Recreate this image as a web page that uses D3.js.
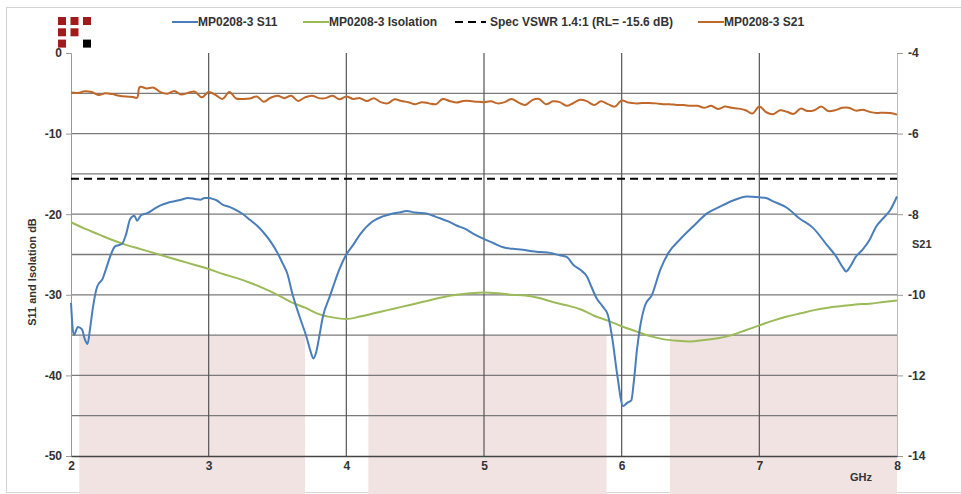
<!DOCTYPE html>
<html lang="en">
<head>
<meta charset="utf-8">
<title>MP0208-3</title>
<script src="https://d3js.org/d3.v7.min.js"></script>
<style>
  body { margin: 0; background: #fff; }
  svg text { font-family: "Liberation Sans", Arial, sans-serif; font-weight: bold; fill: #333; }
</style>
</head>
<body>
<div id="chart"></div>
<script>
// chart data
var seriesNames = ["MP0208-3 S11", "MP0208-3 Isolation", "Spec VSWR 1.4:1 (RL= -15.6 dB)", "MP0208-3 S21"];
var specRL = -15.6;

// S11 [GHz, dB]
var s11 = [
  [2.00,-31.0],[2.02,-35.0],[2.05,-34.0],[2.08,-34.3],[2.10,-35.5],[2.12,-36.1],[2.14,-34.0],[2.16,-31.5],
  [2.19,-29.0],[2.23,-28.0],[2.26,-26.5],[2.29,-25.0],[2.32,-24.0],[2.37,-23.7],[2.40,-22.5],[2.43,-20.6],
  [2.46,-20.2],[2.48,-20.8],[2.51,-20.1],[2.55,-19.9],[2.60,-19.4],[2.65,-18.9],[2.70,-18.6],[2.75,-18.4],
  [2.80,-18.2],[2.85,-18.0],[2.90,-18.1],[2.94,-18.2],[2.97,-18.0],[3.00,-18.0],[3.03,-18.1],[3.06,-18.3],
  [3.10,-18.8],[3.15,-19.1],[3.20,-19.5],[3.25,-20.0],[3.30,-20.7],[3.35,-21.4],[3.40,-22.3],[3.45,-23.4],
  [3.50,-24.8],[3.54,-26.2],[3.57,-27.3],[3.61,-30.0],[3.66,-32.7],[3.71,-35.2],[3.74,-37.0],[3.76,-37.9],
  [3.78,-37.2],[3.80,-35.5],[3.83,-32.7],[3.88,-30.2],[3.95,-26.8],[4.00,-25.0],[4.05,-23.8],[4.10,-22.5],
  [4.19,-20.9],[4.26,-20.3],[4.32,-20.0],[4.38,-19.8],[4.44,-19.6],[4.50,-19.8],[4.58,-19.9],[4.63,-20.2],
  [4.68,-20.5],[4.74,-20.9],[4.80,-21.4],[4.86,-21.8],[4.92,-22.4],[4.99,-23.0],[5.07,-23.6],[5.14,-24.1],
  [5.21,-24.3],[5.28,-24.4],[5.35,-24.6],[5.41,-24.7],[5.48,-24.8],[5.55,-25.1],[5.60,-25.3],[5.65,-26.3],
  [5.70,-26.9],[5.75,-27.8],[5.78,-29.0],[5.82,-30.5],[5.86,-31.4],[5.90,-32.5],[5.93,-35.2],[5.97,-40.2],
  [6.01,-43.8],[6.04,-43.4],[6.07,-43.1],[6.09,-40.5],[6.11,-37.0],[6.13,-34.4],[6.17,-31.3],[6.22,-30.0],
  [6.28,-26.9],[6.34,-24.8],[6.42,-23.2],[6.52,-21.5],[6.62,-19.9],[6.71,-19.1],[6.81,-18.3],[6.91,-17.8],
  [7.00,-17.9],[7.05,-18.0],[7.10,-18.4],[7.20,-19.2],[7.29,-20.5],[7.39,-21.7],[7.49,-23.8],[7.56,-25.3],
  [7.61,-26.7],[7.63,-27.1],[7.66,-26.5],[7.70,-25.3],[7.75,-24.4],[7.80,-23.2],[7.85,-21.5],[7.90,-20.5],
  [7.95,-19.5],[8.00,-17.8]
];

// Isolation [GHz, dB]
var isolation = [
  [2.0,-21.0],[2.1,-21.8],[2.2,-22.5],[2.3,-23.2],[2.4,-23.8],[2.5,-24.3],[2.6,-24.8],[2.7,-25.3],
  [2.8,-25.8],[2.9,-26.3],[3.0,-26.8],[3.1,-27.4],[3.2,-27.9],[3.3,-28.5],[3.4,-29.2],[3.5,-30.0],
  [3.6,-30.9],[3.7,-31.6],[3.8,-32.4],[3.9,-32.8],[4.0,-33.0],[4.1,-32.7],[4.2,-32.3],[4.3,-31.9],
  [4.4,-31.5],[4.5,-31.1],[4.6,-30.7],[4.7,-30.3],[4.8,-30.0],[4.9,-29.8],[5.0,-29.7],[5.1,-29.8],
  [5.2,-30.0],[5.3,-30.1],[5.4,-30.4],[5.5,-30.9],[5.6,-31.3],[5.7,-31.8],[5.8,-32.6],[5.9,-33.2],
  [6.0,-33.9],[6.1,-34.5],[6.2,-35.1],[6.3,-35.5],[6.4,-35.7],[6.5,-35.8],[6.6,-35.6],[6.7,-35.4],
  [6.8,-35.0],[6.9,-34.4],[7.0,-33.8],[7.1,-33.2],[7.2,-32.7],[7.3,-32.3],[7.4,-31.9],[7.5,-31.6],
  [7.6,-31.4],[7.7,-31.2],[7.8,-31.1],[7.9,-30.9],[8.0,-30.7]
];

// S21 [GHz, dB] on the right axis
var s21 = [
  [2.00,-4.98],[2.05,-4.99],[2.10,-4.95],[2.15,-4.97],[2.20,-5.04],[2.25,-5.00],[2.30,-5.02],[2.35,-5.06],
  [2.40,-5.08],[2.45,-5.09],[2.48,-5.11],[2.50,-4.84],[2.55,-4.88],[2.60,-4.86],[2.65,-4.97],[2.70,-5.01],
  [2.75,-4.94],[2.80,-5.03],[2.85,-4.99],[2.90,-4.96],[2.95,-5.10],[3.00,-4.97],[3.05,-5.04],[3.10,-5.14],
  [3.15,-4.97],[3.20,-5.13],[3.25,-5.14],[3.30,-5.13],[3.35,-5.08],[3.40,-5.21],[3.45,-5.11],[3.50,-5.06],
  [3.55,-5.12],[3.60,-5.06],[3.65,-5.19],[3.70,-5.10],[3.75,-5.06],[3.80,-5.12],[3.85,-5.12],[3.90,-5.06],
  [3.95,-5.15],[4.00,-5.08],[4.05,-5.14],[4.10,-5.12],[4.15,-5.19],[4.20,-5.12],[4.25,-5.22],[4.30,-5.25],
  [4.35,-5.15],[4.40,-5.19],[4.45,-5.22],[4.50,-5.27],[4.55,-5.22],[4.60,-5.25],[4.65,-5.27],[4.70,-5.14],
  [4.75,-5.19],[4.80,-5.23],[4.85,-5.19],[4.90,-5.19],[4.95,-5.21],[5.00,-5.22],[5.05,-5.20],[5.10,-5.25],
  [5.15,-5.22],[5.20,-5.14],[5.25,-5.23],[5.30,-5.29],[5.35,-5.17],[5.40,-5.14],[5.45,-5.27],[5.50,-5.20],
  [5.55,-5.22],[5.60,-5.31],[5.65,-5.24],[5.70,-5.16],[5.75,-5.20],[5.80,-5.29],[5.85,-5.20],[5.90,-5.27],
  [5.95,-5.33],[6.00,-5.18],[6.05,-5.23],[6.10,-5.25],[6.15,-5.24],[6.20,-5.24],[6.25,-5.25],[6.30,-5.27],
  [6.35,-5.27],[6.40,-5.29],[6.45,-5.29],[6.50,-5.31],[6.55,-5.31],[6.60,-5.36],[6.65,-5.31],[6.70,-5.39],
  [6.75,-5.33],[6.80,-5.36],[6.85,-5.38],[6.90,-5.42],[6.95,-5.50],[7.00,-5.33],[7.05,-5.47],[7.10,-5.52],
  [7.15,-5.42],[7.20,-5.46],[7.25,-5.51],[7.30,-5.38],[7.35,-5.44],[7.40,-5.42],[7.45,-5.33],[7.50,-5.44],
  [7.55,-5.42],[7.60,-5.36],[7.65,-5.36],[7.70,-5.43],[7.75,-5.41],[7.80,-5.46],[7.85,-5.49],[7.90,-5.48],
  [7.95,-5.49],[8.00,-5.53]
];

// shaded pass bands (GHz)
var bands = [[2.06, 3.70], [4.16, 5.89], [6.35, 8.00]];
var bandTop = -35;

var xTicks = [2, 3, 4, 5, 6, 7, 8];
var yLeftTicks = [0, -10, -20, -30, -40, -50];
var yGrid = [-5, -10, -15, -20, -25, -30, -35, -40, -45];
var yRightTicks = [-4, -6, -8, -10, -12, -14];

var colors = ["#4a7ebb", "#9bbb59", "#000000", "#c0672a"];

var W = 961, H = 494;
var x = d3.scaleLinear().domain([2, 8]).range([71, 897]);
var yL = d3.scaleLinear().domain([-50, 0]).range([456, 53]);
var yR = d3.scaleLinear().domain([-14, -4]).range([456, 53]);

var svg = d3.select("#chart").append("svg").attr("width", W).attr("height", H);

// outer frame
svg.append("rect").attr("x", 6.5).attr("y", 7.5).attr("width", W).attr("height", 485)
  .attr("fill", "none").attr("stroke", "#d4d4d4");

// shaded bands
svg.selectAll("rect.band").data(bands).enter().append("rect")
  .attr("class", "band")
  .attr("x", function(d) { return x(d[0]); })
  .attr("width", function(d) { return x(d[1]) - x(d[0]); })
  .attr("y", yL(bandTop))
  .attr("height", H - yL(bandTop))
  .attr("fill", "#f2e3e3");

// horizontal grid
svg.selectAll("line.hgrid").data(yGrid).enter().append("line")
  .attr("x1", x(2)).attr("x2", x(8))
  .attr("y1", function(d) { return yL(d); }).attr("y2", function(d) { return yL(d); })
  .attr("stroke", "#7a7a7a").attr("stroke-width", 1.3);

// vertical grid
svg.selectAll("line.vgrid").data(xTicks.slice(1, -1)).enter().append("line")
  .attr("x1", function(d) { return x(d); }).attr("x2", function(d) { return x(d); })
  .attr("y1", yL(0)).attr("y2", yL(-50))
  .attr("stroke", "#555").attr("stroke-width", 1.2);

// left axis
var leftAxis = svg.append("g").attr("transform", "translate(" + x(2) + ",0)")
  .call(d3.axisLeft(yL).tickValues(yLeftTicks).tickSize(5).tickFormat(function(d) { return String(d); }));
leftAxis.select(".domain").attr("stroke", "#999");
leftAxis.selectAll(".tick line").attr("stroke", "#999");
leftAxis.selectAll("text").attr("font-size", 12).attr("fill", "#333").attr("x", -9);

// right axis
var rightAxis = svg.append("g").attr("transform", "translate(" + x(8) + ",0)")
  .call(d3.axisRight(yR).tickValues(yRightTicks).tickSize(6).tickFormat(function(d) { return String(d); }));
rightAxis.select(".domain").attr("stroke", "#bbb");
rightAxis.selectAll(".tick line").attr("stroke", "#999");
rightAxis.selectAll("text").attr("font-size", 12).attr("fill", "#333").attr("x", 11);

// bottom axis
var bottomAxis = svg.append("g").attr("transform", "translate(0," + yL(-50) + ")")
  .call(d3.axisBottom(x).tickValues(xTicks).tickSize(0).tickFormat(d3.format("d")));
bottomAxis.select(".domain").attr("stroke", "#444").attr("stroke-width", 1.3);
bottomAxis.selectAll("text").attr("font-size", 12).attr("fill", "#333").attr("dy", "0.9em");

svg.selectAll(".tick text").style("font-family", "'Liberation Sans', Arial, sans-serif").style("font-weight", "bold");

// axis titles
svg.append("text").attr("transform", "translate(36,272) rotate(-90)")
  .attr("text-anchor", "middle").attr("font-size", 11).text("S11 and Isolation dB");
svg.append("text").attr("x", 912).attr("y", 248).attr("font-size", 11).text("S21");
svg.append("text").attr("x", 861).attr("y", 481).attr("text-anchor", "middle").attr("font-size", 11).text("GHz");

// series
var lineL = d3.line().x(function(d) { return x(d[0]); }).y(function(d) { return yL(d[1]); }).curve(d3.curveMonotoneX);
var lineR = d3.line().x(function(d) { return x(d[0]); }).y(function(d) { return yR(d[1]); }).curve(d3.curveCatmullRom);

svg.append("path").datum(isolation).attr("d", lineL)
  .attr("fill", "none").attr("stroke", colors[1]).attr("stroke-width", 2);

svg.append("line")
  .attr("x1", x(2)).attr("x2", x(8)).attr("y1", yL(specRL)).attr("y2", yL(specRL))
  .attr("stroke", colors[2]).attr("stroke-width", 2).attr("stroke-dasharray", "8,5");

svg.append("path").datum(s21).attr("d", lineR)
  .attr("fill", "none").attr("stroke", colors[3]).attr("stroke-width", 2);

svg.append("path").datum(s11).attr("d", lineL)
  .attr("fill", "none").attr("stroke", colors[0]).attr("stroke-width", 2);

// legend
var legendX = [172, 303, 455, 698];
var legend = svg.selectAll("g.legend").data(seriesNames).enter().append("g")
  .attr("transform", function(d, i) { return "translate(" + legendX[i] + ",22)"; });
legend.append("line").attr("x1", 0).attr("x2", function(d, i) { return i === 2 ? 31 : 26; })
  .attr("y1", 0).attr("y2", 0)
  .attr("stroke", function(d, i) { return colors[i]; })
  .attr("stroke-width", 2)
  .attr("stroke-dasharray", function(d, i) { return i === 2 ? "8,5" : null; });
legend.append("text").attr("x", function(d, i) { return i === 2 ? 35 : 26; }).attr("y", 4)
  .attr("font-size", 12).attr("fill", "#333").text(function(d) { return d; });

// logo
var logoCells = [[0,0],[1,0],[2,0],[0,1],[1,1],[0,2]];
svg.selectAll("rect.logo").data(logoCells).enter().append("rect")
  .attr("x", function(d) { return 58 + d[0] * 12.5; })
  .attr("y", function(d) { return 17 + d[1] * 11.3; })
  .attr("width", 8).attr("height", 8).attr("fill", "#a11b1b");
svg.append("rect").attr("x", 83).attr("y", 39.6).attr("width", 8).attr("height", 8).attr("fill", "#000");
</script>
</body>
</html>
